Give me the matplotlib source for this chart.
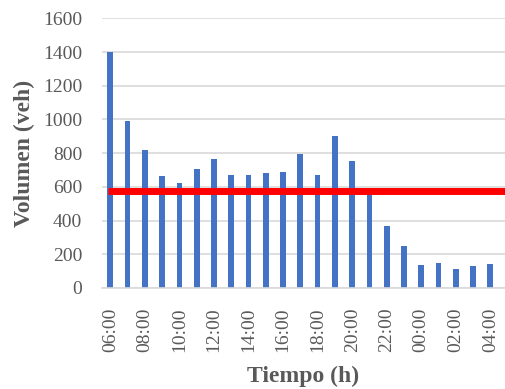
import matplotlib
matplotlib.use("Agg")
import matplotlib.pyplot as plt
import numpy as np

# Hourly traffic volume, 06:00 through 04:00
hours = ["06:00", "07:00", "08:00", "09:00", "10:00", "11:00", "12:00", "13:00",
         "14:00", "15:00", "16:00", "17:00", "18:00", "19:00", "20:00", "21:00",
         "22:00", "23:00", "00:00", "01:00", "02:00", "03:00", "04:00"]
volumes = [1400, 990, 820, 665, 625, 705, 765, 668, 668, 683, 690, 796, 668,
           900, 755, 555, 368, 247, 138, 150, 111, 127, 144]
threshold = 573

plt.rcParams["font.family"] = ["Liberation Serif", "DejaVu Serif"]

fig = plt.figure(figsize=(5.05, 3.89), dpi=100)
ax = fig.add_axes([0.2014, 0.26, 0.7986, 0.6925])

x = np.arange(len(hours))
ax.bar(x, volumes, width=0.33, color="#4472C4", zorder=2)
# reference level drawn across the plot, starting at the first bar
ax.plot([-0.12, len(hours) + 1], [threshold, threshold], color="#FF0000",
        linewidth=5, solid_capstyle="butt", zorder=3)

ax.set_xlim(-0.5, len(hours) - 0.15)
ax.set_ylim(0, 1600)
ax.set_yticks(range(0, 1601, 200))
ax.set_xticks(x[::2])
ax.set_xticklabels(hours[::2], rotation=90)

ax.grid(axis="y", color="#D9D9D9", linewidth=1.2, zorder=0)
for side in ["top", "right", "left"]:
    ax.spines[side].set_visible(False)
ax.spines["bottom"].set_color("#D9D9D9")
ax.spines["bottom"].set_linewidth(1.2)
ax.tick_params(axis="both", length=0, labelsize=14, colors="#595959")
ax.tick_params(axis="x", pad=14)
ax.tick_params(axis="y", pad=14)

ax.set_xlabel("Tiempo (h)", fontsize=17, fontweight="bold", color="#595959", labelpad=10)
ax.set_ylabel("Volumen (veh)", fontsize=17, fontweight="bold", color="#595959", labelpad=6)

fig.savefig("out.png", dpi=100)
